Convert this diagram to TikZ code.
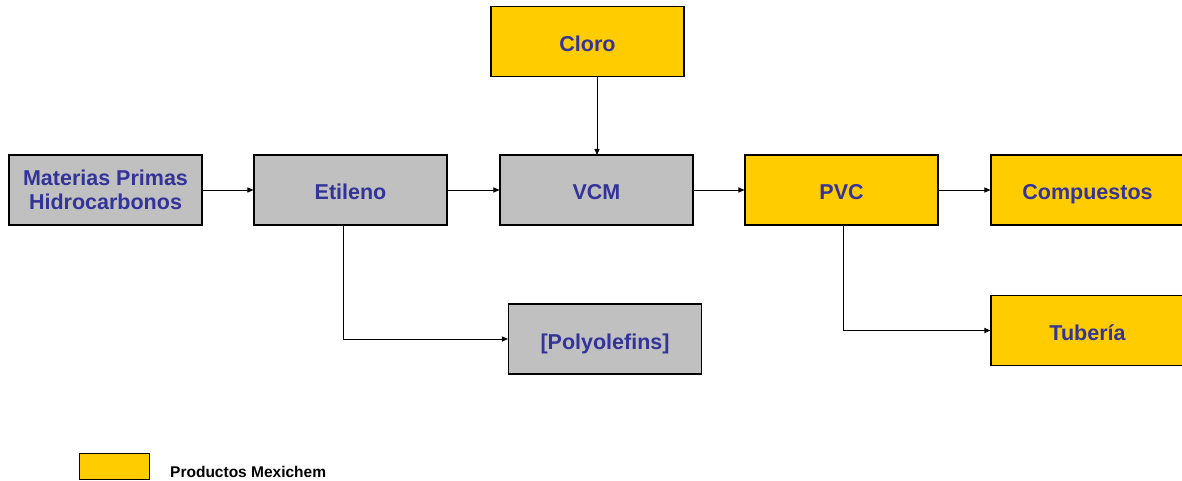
\documentclass[tikz,border=0pt]{standalone}
\usepackage{fontspec}
\setmainfont{Liberation Sans}
\usetikzlibrary{arrows.meta}
\definecolor{boxgrey}{HTML}{C0C0C0}
\definecolor{boxgold}{HTML}{FFCC00}
\definecolor{labelblue}{HTML}{333399}
\begin{document}
\begin{tikzpicture}[x=1pt,y=-1pt,
  stage/.style={draw=black, line width=1.1pt, minimum width=193pt, minimum height=70pt,
    inner sep=0pt, align=center, font=\fontsize{21.5}{24}\selectfont\bfseries, text=labelblue},
  oneline/.style={text height=20pt, text depth=0pt},
  raw/.style={stage, fill=boxgrey},
  own/.style={stage, fill=boxgold},
  flow/.style={draw=black, line width=0.9pt, -{Triangle[length=6pt,width=5pt]}}]
  \useasboundingbox (0,0) rectangle (1182,481);
  % process chain
  \node[raw] (mat) at (105.5,190) {Materias Primas\\Hidrocarbonos};
  \node[raw, oneline] (eti) at (350.5,190) {Etileno};
  \node[raw, oneline] (vcm) at (596.5,190) {VCM};
  \node[own, oneline] (pvc) at (841.5,190) {PVC};
  \node[own, oneline] (com) at (1087.5,190) {Compuestos};
  \node[own, oneline] (clo) at (587.5,41.5) {Cloro};
  \node[raw, oneline] (pol) at (605,339) {[Polyolefins]};
  \node[own, oneline] (tub) at (1087.5,330.5) {Tubería};
  % connectors
  \coordinate (cloin) at (597,155);
  \draw[flow] (mat) -- (eti);
  \draw[flow] (eti) -- (vcm);
  \draw[flow] (vcm) -- (pvc);
  \draw[flow] (pvc) -- (com);
  \draw[flow] (cloin |- clo.south) -- (cloin);
  \coordinate (etiout) at (343,225);
  \coordinate (pvcout) at (843,225);
  \draw[flow] (etiout) |- (pol.west);
  \draw[flow] (pvcout) |- (tub.west);
  % legend
  \node[draw=black, line width=1pt, fill=boxgold, minimum width=70pt, minimum height=26pt, inner sep=0pt] (key) at (114,466) {};
  \node[anchor=west, font=\fontsize{15.5}{17}\selectfont\bfseries, inner sep=0pt] (keytxt) at (170,472) {Productos Mexichem};
\end{tikzpicture}
\end{document}
